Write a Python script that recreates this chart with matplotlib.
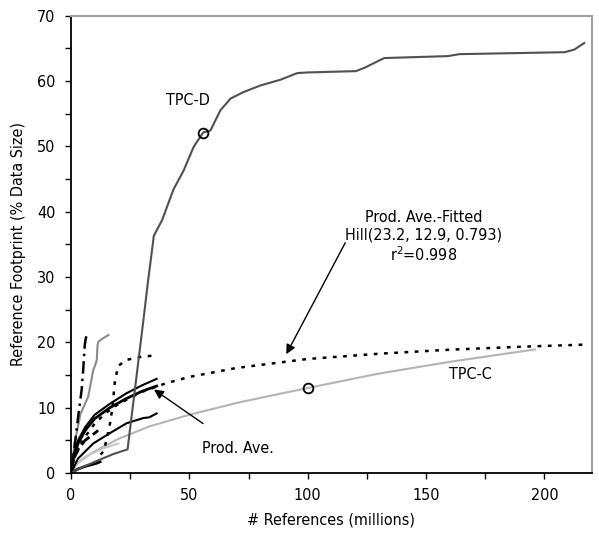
import matplotlib
matplotlib.use('Agg')
import matplotlib.pyplot as plt
from matplotlib.ticker import MultipleLocator

plt.rcParams['font.family'] = ['DejaVu Sans']
plt.rcParams['font.stretch'] = 'condensed'

# TPC-D trace (millions of refs, % data size)
tpcd_x = [0, 5, 12, 18, 23.9, 30.6, 32.5, 35, 38.5, 43.3, 47.6, 51.8, 55.8, 58.9, 63.1, 67.4,
          72.9, 80, 88.6, 95.6, 100, 120.3, 123.9, 132.3, 159.2, 164.1, 208.6, 212.6, 216.8]
tpcd_y = [0, 0.9, 2.0, 2.9, 3.6, 23.4, 29.2, 36.3, 38.7, 43.4, 46.3, 49.9, 52.1, 52.4, 55.5, 57.3,
          58.3, 59.3, 60.2, 61.2, 61.3, 61.5, 62.0, 63.5, 63.8, 64.1, 64.4, 64.8, 65.8]

# TPC-C trace
tpcc_x = [0, 2, 5, 10, 20, 33, 50, 71, 100, 130, 160, 196]
tpcc_y = [0, 1.2, 2.2, 3.3, 5.2, 7.1, 8.9, 10.8, 13.0, 15.2, 17.0, 18.9]

# Prod. Ave.-Fitted
fit_x = [0, 1, 2, 5, 10, 15, 20, 30, 40, 50, 70, 100, 130, 160, 190, 218]
fit_y = [0, 1.67, 2.75, 5.04, 7.54, 9.26, 10.55, 12.41, 13.71, 14.69, 16.07, 17.44,
         18.24, 18.86, 19.31, 19.65]

# Prod. Ave.
ave_x = [0, 1, 3, 6, 10, 16.5, 23.5, 30, 36.2]
ave_y = [0, 2.3, 4.5, 6.5, 8.3, 10.0, 11.4, 12.5, 13.3]

# individual production traces
p1_x = [0, 1.5, 3, 4.5, 5.2, 5.8, 6.2, 6.8]
p1_y = [0, 4, 8.5, 12.7, 16, 19.5, 20.5, 21.3]
p2_x = [0, 1.5, 4, 7.3, 8.5, 9.4, 10.2, 10.9, 11.2, 11.6, 13.5, 15.8]
p2_y = [0, 4.5, 9, 11.7, 14, 15.7, 16.5, 17.3, 19.5, 20.1, 20.6, 21.1]
p3_x = [12.5, 13.7, 15, 16.5, 17.5, 18.6, 20, 23.5, 30, 36.2]
p3_y = [2.8, 3.3, 5, 7.6, 10, 14.2, 16.4, 17.3, 17.8, 18.0]
p4_x = [0, 1, 3, 6, 10, 16.5, 23.5, 30, 36.2]
p4_y = [0, 2.7, 5.0, 7.0, 8.9, 10.6, 12.2, 13.4, 14.4]
p5_x = [0, 3, 9.4, 16.5, 23.5, 30.6, 33, 36.2]
p5_y = [0, 2.2, 4.5, 6.1, 7.6, 8.4, 8.5, 9.1]
p6_x = [0, 1, 3, 6, 9, 11.5]
p6_y = [0, 2, 3.6, 5, 5.8, 6.5]
p7_x = [0, 3, 6, 9, 11, 12.3]
p7_y = [0, 0.6, 1.0, 1.3, 1.5, 1.7]
p8_x = [0, 3, 8, 14, 20]
p8_y = [0, 1.5, 2.8, 3.8, 4.5]

fig = plt.figure(figsize=(5.99, 5.38), dpi=100)
ax = fig.add_axes([0.1185, 0.121, 0.8695, 0.850])

ax.plot(tpcc_x, tpcc_y, color='#b4b4b4', lw=1.5)
ax.plot(p8_x, p8_y, color='#c8c8c8', lw=1.5)
ax.plot(p2_x, p2_y, color='#8a8a8a', lw=1.5)
ax.plot(p1_x, p1_y, color='black', lw=1.8, linestyle=(0, (5, 2, 1, 2)))
ax.plot(p3_x, p3_y, color='black', lw=1.8, linestyle=(0, (1.5, 2.6)))
ax.plot(p4_x, p4_y, color='black', lw=1.5)
ax.plot(p5_x, p5_y, color='black', lw=1.5)
ax.plot(p6_x, p6_y, color='black', lw=2, linestyle=(0, (4, 1.5)))
ax.plot(p7_x, p7_y, color='black', lw=2)
ax.plot(ave_x, ave_y, color='black', lw=2)
ax.plot(fit_x, fit_y, color='black', lw=1.8, linestyle=(0, (1.5, 2.6)))
ax.plot(tpcd_x, tpcd_y, color='#505050', lw=1.5)

# marked points
ax.plot([55.8], [52.1], 'o', mfc='none', mec='black', ms=7, mew=1.3)
ax.plot([100], [13.0], 'o', mfc='none', mec='black', ms=7, mew=1.3)

ax.set_xlim(0, 220)
ax.set_ylim(0, 70)
ax.xaxis.set_major_locator(MultipleLocator(50))
ax.xaxis.set_minor_locator(MultipleLocator(25))
ax.yaxis.set_major_locator(MultipleLocator(10))
ax.yaxis.set_minor_locator(MultipleLocator(5))
ax.tick_params(which='both', direction='out', length=4, width=1, labelsize=11.5,
               colors='black', pad=7)

for s in ['left', 'bottom']:
    ax.spines[s].set_color('black')
    ax.spines[s].set_linewidth(1.3)
for s in ['top', 'right']:
    ax.spines[s].set_color('#a0a0a0')
    ax.spines[s].set_linewidth(1.5)

ax.set_xlabel('# References (millions)', fontsize=11.5, labelpad=7)
ax.set_ylabel('Reference Footprint (% Data Size)', fontsize=11.5, labelpad=8)

ax.text(49.4, 57, 'TPC-D', fontsize=11.5, ha='center', va='center')
ax.text(168.5, 15.0, 'TPC-C', fontsize=11.5, ha='center', va='center')
ax.text(149, 36.1, 'Prod. Ave.-Fitted\nHill(23.2, 12.9, 0.793)\nr$^2$=0.998',
        fontsize=11.5, ha='center', va='center', linespacing=1.2)
ax.annotate('', xy=(90.4, 17.8), xytext=(116.4, 35.6),
            arrowprops=dict(arrowstyle='-|>', color='black', lw=1, mutation_scale=14))
ax.annotate('Prod. Ave.', xy=(34.1, 13.0), xytext=(70.7, 3.8), fontsize=11.5,
            ha='center', va='center',
            arrowprops=dict(arrowstyle='-|>', color='black', lw=1, mutation_scale=14,
                            shrinkA=18))

fig.savefig('out.png', dpi=100)
